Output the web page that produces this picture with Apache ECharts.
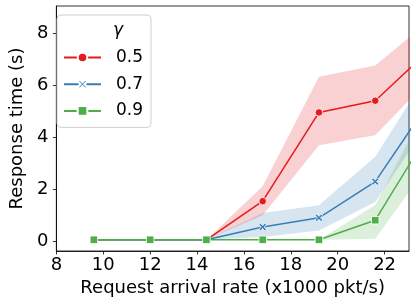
<!DOCTYPE html>
<html><head><meta charset="utf-8">
<script src="https://cdn.jsdelivr.net/npm/echarts@6/dist/echarts.min.js"></script>
<style>html,body{margin:0;padding:0;background:#fff}#c{width:416px;height:305px}</style>
</head><body><div id="c"></div>
<script>
// Data
const xs = [9.6, 12.0, 14.4, 16.8, 19.2, 21.6, 24.0];
const gammaLabels = ['0.5', '0.7', '0.9'];
const mean05 = [0.07, 0.07, 0.07, 1.55, 4.95, 5.40, 7.42];
const low05  = [0.07, 0.07, 0.07, 1.01, 3.69, 4.08, 6.31];
const up05   = [0.07, 0.07, 0.07, 2.12, 6.32, 6.75, 8.53];
const mean07 = [0.07, 0.07, 0.07, 0.56, 0.91, 2.30, 5.48];
const low07  = [0.07, 0.07, 0.07, 0.18, 0.43, 1.52, 4.72];
const up07   = [0.07, 0.07, 0.07, 1.10, 1.39, 3.25, 6.67];
const mean09 = [0.07, 0.07, 0.07, 0.07, 0.07, 0.82, 4.34];
const low09  = [0.07, 0.07, 0.07, 0.07, 0.07, 0.11, 3.09];
const up09   = [0.07, 0.07, 0.07, 0.07, 0.07, 1.39, 5.56];
const xTicks = [8, 10, 12, 14, 16, 18, 20, 22];
const yTicks = [0, 2, 4, 6, 8];

const colors = ['#e41a1c', '#377eb8', '#4daf4a'];
const symbols = ['circle', 'path://M0,2 L2,0 L5,3 L8,0 L10,2 L7,5 L10,8 L8,10 L5,7 L2,10 L0,8 L3,5 Z', 'rect'];
const means = [mean05, mean07, mean09];
const lows = [low05, low07, low09];
const ups = [up05, up07, up09];

function band(i) {
  return {
    type: 'custom', name: gammaLabels[i] + '_band', clip: true, silent: true, z: 1,
    data: [[0]],
    renderItem: function (params, api) {
      const pts = [];
      for (let k = 0; k < xs.length; k++) pts.push(api.coord([xs[k], ups[i][k]]));
      for (let k = xs.length - 1; k >= 0; k--) pts.push(api.coord([xs[k], lows[i][k]]));
      return { type: 'polygon', shape: { points: pts },
        style: { fill: colors[i], opacity: 0.2 } };
    }
  };
}
function line(i) {
  return {
    type: 'line', name: gammaLabels[i], clip: true, z: 3 + i,
    data: xs.map((x, k) => [x, means[i][k]]),
    symbol: symbols[i], symbolSize: 7.5, showSymbol: true,
    lineStyle: { color: colors[i], width: 1.5 },
    itemStyle: { color: colors[i], borderColor: '#fff', borderWidth: 0.8 },
    emphasis: { disabled: true }, animation: false
  };
}
const series = [];
for (let i = 0; i < 3; i++) series.push(band(i));
for (let i = 0; i < 3; i++) series.push(line(i));

const font = 'DejaVu Sans';
const chart = echarts.init(document.getElementById('c'), null, { renderer: 'canvas' });
chart.setOption({
  animation: false,
  backgroundColor: '#fff',
  grid: { left: 47, right: 7, top: 6, bottom: 54, show: true, borderColor: '#000', borderWidth: 0.8, backgroundColor: 'transparent' },
  xAxis: {
    type: 'value', min: 8, max: 23.04,
    name: 'Request arrival rate (x1000 pkt/s)', nameLocation: 'middle', nameGap: 18,
    nameTextStyle: { fontFamily: font, fontSize: 18, color: '#000' },
    axisLine: { show: true, onZero: false, lineStyle: { color: '#000', width: 0.8 } },
    axisTick: { show: true, inside: false, length: 3.5, lineStyle: { color: '#000', width: 0.8 }, customValues: xTicks },
    axisLabel: { fontFamily: font, fontSize: 18, color: '#000', margin: 5, customValues: xTicks },
    splitLine: { show: false }
  },
  yAxis: {
    type: 'value', min: -0.36, max: 9.03,
    name: 'Response time (s)', nameLocation: 'middle', nameGap: 27,
    nameTextStyle: { fontFamily: font, fontSize: 18, color: '#000' },
    axisLine: { show: true, onZero: false, lineStyle: { color: '#000', width: 0.8 } },
    axisTick: { show: true, inside: false, length: 3.5, lineStyle: { color: '#000', width: 0.8 }, customValues: yTicks },
    axisLabel: { fontFamily: font, fontSize: 18, color: '#000', margin: 8, customValues: yTicks },
    splitLine: { show: false }
  },
  legend: {
    orient: 'vertical', left: 57, top: 15,
    data: gammaLabels,
    padding: [34, 8, 8, 6],
    itemWidth: 37, itemHeight: 12, itemGap: 9.7,
    backgroundColor: 'rgba(255,255,255,0.8)', borderColor: '#d0d0d0', borderWidth: 1, borderRadius: 4,
    textStyle: { fontFamily: font, fontSize: 17, color: '#000', lineHeight: 17, padding: [0, 0, 0, 10] }
  },
  graphic: [{
    type: 'text', left: 113, top: 22, z: 100,
    style: { text: 'γ', fontFamily: font, fontSize: 17, fontStyle: 'italic', fill: '#000' }
  }],
  series: series
});
</script></body></html>
